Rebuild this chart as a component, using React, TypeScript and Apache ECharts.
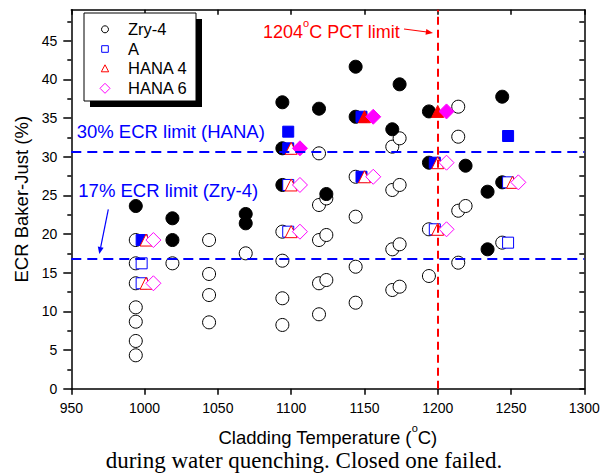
import React, { useEffect, useRef } from "react";
import * as echarts from "echarts";

const xTicks = [950, 1000, 1050, 1100, 1150, 1200, 1250, 1300];
const yTicks = [0, 5, 10, 15, 20, 25, 30, 35, 40, 45];
const yMinorTicks = [2.5, 7.5, 12.5, 17.5, 22.5, 27.5, 32.5, 37.5, 42.5, 47.5];

const seriesNames = ["Zry-4", "A", "HANA 4", "HANA 6"];

// Zry-4 (circle) : open = survived, closed = failed
const zry4Open: [number, number][] = [
  [994, 19.22], [994, 16.21], [994, 13.63], [994, 10.52], [994, 8.66], [994, 6.17], [994, 4.32],
  [1019, 16.21],
  [1044, 19.22], [1044, 14.83], [1044, 12.11], [1044, 8.58],
  [1069, 17.5],
  [1094, 20.3], [1094, 16.55], [1094, 11.69], [1094, 8.24],
  [1119, 30.43], [1119, 23.75], [1119, 19.22], [1119, 13.63], [1119, 9.62],
  [1124, 24.6], [1124, 19.87], [1124, 14.05],
  [1144, 27.4], [1144, 22.24], [1144, 15.77], [1144, 11.12],
  [1169, 31.29], [1169, 25.69], [1169, 18.02], [1169, 12.76],
  [1174, 32.37], [1174, 26.34], [1174, 18.67], [1174, 13.19],
  [1194, 20.61], [1194, 14.57],
  [1214, 36.46], [1214, 32.58], [1214, 23.01], [1214, 16.29],
  [1219, 23.62],
  [1244, 18.88],
];
const zry4Closed: [number, number][] = [
  [994, 23.62], [1019, 22.03], [1019, 19.22], [1069, 22.59], [1069, 21.38],
  [1094, 37.03], [1094, 31.08], [1094, 26.34],
  [1119, 36.2], [1124, 25.17],
  [1144, 41.63], [1144, 35.16],
  [1169, 33.54], [1174, 39.35],
  [1194, 35.85], [1194, 29.22],
  [1219, 28.83],
  [1234, 25.47], [1234, 18.02],
  [1244, 37.75], [1244, 26.68],
];

// A (square)
const aOpen: [number, number][] = [
  [998, 16.21], [998, 13.63], [1098, 26.34], [1098, 20.3], [1198, 20.61], [1248, 26.68], [1248, 18.88],
];
const aClosed: [number, number][] = [
  [998, 19.22], [1098, 33.23], [1098, 31.08], [1148, 35.16], [1148, 27.4], [1198, 29.22], [1248, 32.67],
];

// HANA 4 (triangle)
const hana4Open: [number, number][] = [
  [1001, 19.22], [1001, 13.63], [1100, 31.08], [1100, 26.34], [1100, 20.3], [1150, 27.4],
  [1200, 29.22], [1200, 20.61], [1251, 26.68],
];
const hana4Closed: [number, number][] = [[1150, 35.16], [1200, 35.85]];

// HANA 6 (diamond)
const hana6Open: [number, number][] = [
  [1006, 19.22], [1006, 13.63], [1106, 26.34], [1106, 20.3], [1156, 27.4],
  [1206, 29.22], [1206, 20.61], [1255, 26.68],
];
const hana6Closed: [number, number][] = [[1106, 31.08], [1156, 35.16], [1206, 35.85]];

const hanaLimit = 30.65;
const zryLimit = 16.75;
const pctLimitTemp = 1200;

const FONT = "'Liberation Sans', Arial, Helvetica, sans-serif";

export default function App() {
  const ref = useRef<HTMLDivElement>(null);
  useEffect(() => {
    document.body.style.margin = "0";
    if (!ref.current) return;
    const chart = echarts.init(ref.current, undefined, { renderer: "svg" });

    const sc = (
      name: string,
      data: [number, number][],
      symbol: string,
      size: number,
      color: string,
      filled: boolean,
      extra: any = {}
    ) => ({
      type: "scatter",
      name,
      data,
      symbol,
      symbolSize: size,
      xAxisIndex: 0,
      yAxisIndex: 0,
      itemStyle: {
        color: filled ? color : "#ffffff",
        borderColor: color,
        borderWidth: 1,
        opacity: 1,
      },
      emphasis: { disabled: true },
      ...extra,
    });

    const option: any = {
      animation: false,
      textStyle: { fontFamily: FONT },
      grid: { left: 71.3, right: 23.7, top: 9.7, bottom: 84.3, containLabel: false },
      xAxis: [
        {
          type: "value",
          min: 950,
          max: 1300,
          interval: 50,
          position: "bottom",
          axisLine: { show: true, onZero: false, lineStyle: { color: "#000", width: 1.5 } },
          axisTick: { show: true, inside: false, length: 6, lineStyle: { color: "#000", width: 1.5 }, customValues: xTicks },
          axisLabel: {
            color: "#000",
            fontSize: 14,
            margin: 12,
            fontFamily: FONT,
            customValues: xTicks,
            formatter: (v: number) => String(v),
          },
          splitLine: { show: false },
          name: "{n|Cladding Temperature (}{s|o}{n|C)}",
          nameLocation: "middle",
          nameGap: 34,
          nameTextStyle: {
            color: "#000",
            fontSize: 18.5,
            fontFamily: FONT,
            rich: {
              n: { fontSize: 18.5, lineHeight: 24, verticalAlign: "bottom", fontFamily: FONT, color: "#000" },
              s: { fontSize: 11, lineHeight: 11, verticalAlign: "top", fontFamily: FONT, color: "#000" },
            },
          },
        },
        {
          type: "value",
          min: 950,
          max: 1300,
          interval: 50,
          position: "top",
          axisLine: { show: true, onZero: false, lineStyle: { color: "#000", width: 1.5 } },
          axisTick: { show: true, inside: true, length: 5, lineStyle: { color: "#000", width: 1.5 }, customValues: xTicks },
          axisLabel: { show: false },
          splitLine: { show: false },
        },
      ],
      yAxis: [
        {
          type: "value",
          min: 0,
          max: 49,
          interval: 5,
          position: "left",
          axisLine: { show: true, onZero: false, lineStyle: { color: "#000", width: 1.5 } },
          axisTick: { show: true, inside: false, length: 8, lineStyle: { color: "#000", width: 1.5 }, customValues: yTicks },
          axisLabel: { color: "#000", fontSize: 14, margin: 14, fontFamily: FONT, customValues: yTicks },
          splitLine: { show: false },
          name: "ECR Baker-Just (%)",
          nameLocation: "middle",
          nameGap: 37,
          nameRotate: 90,
          nameTextStyle: { color: "#000", fontSize: 18.5, fontFamily: FONT },
        },
        {
          type: "value",
          min: 0,
          max: 49,
          interval: 2.5,
          position: "left",
          axisLine: { show: false },
          axisTick: { show: true, inside: false, length: 4, lineStyle: { color: "#000", width: 1.5 }, customValues: yMinorTicks },
          axisLabel: { show: false },
          splitLine: { show: false },
        },
        {
          type: "value",
          min: 0,
          max: 49,
          interval: 2.5,
          position: "right",
          axisLine: { show: true, onZero: false, lineStyle: { color: "#000", width: 1.5 } },
          axisTick: {
            show: true,
            inside: true,
            length: 5,
            lineStyle: { color: "#000", width: 1.5 },
            customValues: [...yTicks, ...yMinorTicks],
          },
          axisLabel: { show: false },
          splitLine: { show: false },
        },
      ],
      series: [
        sc(seriesNames[0], zry4Open, "circle", 13, "#000000", false),
        sc(seriesNames[0], zry4Closed, "circle", 13, "#000000", true),
        sc(seriesNames[1], aOpen, "rect", 11, "#0000ff", false),
        sc(seriesNames[1], aClosed, "rect", 11, "#0000ff", true),
        sc(seriesNames[2], hana4Open, "triangle", 12, "#ff0000", false),
        sc(seriesNames[2], hana4Closed, "triangle", 12, "#ff0000", true),
        sc(seriesNames[3], hana6Open, "diamond", 15, "#ff00ff", false),
        sc(seriesNames[3], hana6Closed, "diamond", 15, "#ff00ff", true, {
          markLine: {
            silent: true,
            symbol: ["none", "none"],
            label: { show: false },
            emphasis: { disabled: true },
            data: [
              { yAxis: hanaLimit, lineStyle: { color: "#0000ff", width: 2, type: [10, 6] } },
              { yAxis: zryLimit, lineStyle: { color: "#0000ff", width: 2, type: [10, 6] } },
              { xAxis: pctLimitTemp, lineStyle: { color: "#ff0000", width: 2, type: [8, 5] } },
            ],
          },
        }),
      ],
      graphic: [
        // legend box with shadow
        { type: "rect", shape: { x: 90, y: 19, width: 112, height: 88 }, style: { fill: "#000" }, z: 10 },
        { type: "rect", shape: { x: 84, y: 13, width: 112, height: 88 }, style: { fill: "#fff", stroke: "#000", lineWidth: 1 }, z: 11 },
        { type: "circle", shape: { cx: 105, cy: 29.3, r: 3.5 }, style: { fill: "#fff", stroke: "#000", lineWidth: 1 }, z: 12 },
        { type: "rect", shape: { x: 101.7, y: 45.7, width: 6.6, height: 6.6 }, style: { fill: "#fff", stroke: "#0000ff", lineWidth: 1 }, z: 12 },
        { type: "polygon", shape: { points: [[105, 64.8], [108.7, 71.8], [101.3, 71.8]] }, style: { fill: "#fff", stroke: "#ff0000", lineWidth: 1 }, z: 12 },
        { type: "polygon", shape: { points: [[105, 83.3], [110, 88.3], [105, 93.3], [100, 88.3]] }, style: { fill: "#fff", stroke: "#ff00ff", lineWidth: 1 }, z: 12 },
        { type: "text", x: 128, y: 29.3, style: { text: seriesNames[0], font: `16.5px ${FONT}`, fill: "#000", verticalAlign: "middle" }, z: 12 },
        { type: "text", x: 128, y: 49, style: { text: seriesNames[1], font: `16.5px ${FONT}`, fill: "#000", verticalAlign: "middle" }, z: 12 },
        { type: "text", x: 128, y: 68.3, style: { text: seriesNames[2], font: `16.5px ${FONT}`, fill: "#000", verticalAlign: "middle" }, z: 12 },
        { type: "text", x: 128, y: 88.3, style: { text: seriesNames[3], font: `16.5px ${FONT}`, fill: "#000", verticalAlign: "middle" }, z: 12 },
        // limit labels
        { type: "text", x: 76.7, y: 131, style: { text: "30% ECR limit (HANA)", font: `18.5px ${FONT}`, fill: "#0000ff", verticalAlign: "middle" }, z: 12 },
        { type: "text", x: 78.3, y: 190, style: { text: "17% ECR limit (Zry-4)", font: `18.5px ${FONT}`, fill: "#0000ff", verticalAlign: "middle" }, z: 12 },
        { type: "line", shape: { x1: 108.3, y1: 209.3, x2: 100.7, y2: 247.1 }, style: { stroke: "#0000ff", lineWidth: 1.2 }, z: 12 },
        { type: "polygon", shape: { points: [[99.3, 254], [103.6, 247.7], [97.8, 246.5]] }, style: { fill: "#0000ff" }, z: 12 },
        {
          type: "text",
          x: 263,
          y: 29,
          style: {
            text: "{n|1204}{s|o}{n|C PCT limit}",
            fill: "#ff0000",
            verticalAlign: "middle",
            rich: {
              n: { fontSize: 18, lineHeight: 24, verticalAlign: "bottom", fontFamily: FONT, fill: "#ff0000" },
              s: { fontSize: 11, lineHeight: 11, verticalAlign: "top", fontFamily: FONT, fill: "#ff0000" },
            },
          },
          z: 12,
        },
        { type: "line", shape: { x1: 404, y1: 29, x2: 427, y2: 32 }, style: { stroke: "#ff0000", lineWidth: 1.2 }, z: 12 },
        { type: "polygon", shape: { points: [[433, 33], [426.3, 28.9], [425.5, 34.8]] }, style: { fill: "#ff0000" }, z: 12 },
        // caption
        {
          type: "text",
          x: 304,
          y: 460,
          style: { text: "during water quenching. Closed one failed.", font: `23px 'Liberation Serif', 'Times New Roman', serif`, fill: "#000", align: "center", verticalAlign: "middle" },
          z: 12,
        },
      ],
    };
    chart.setOption(option);
    return () => chart.dispose();
  }, []);
  return <div ref={ref} style={{ width: 608, height: 473, position: "absolute", left: 0, top: 0 }} />;
}
